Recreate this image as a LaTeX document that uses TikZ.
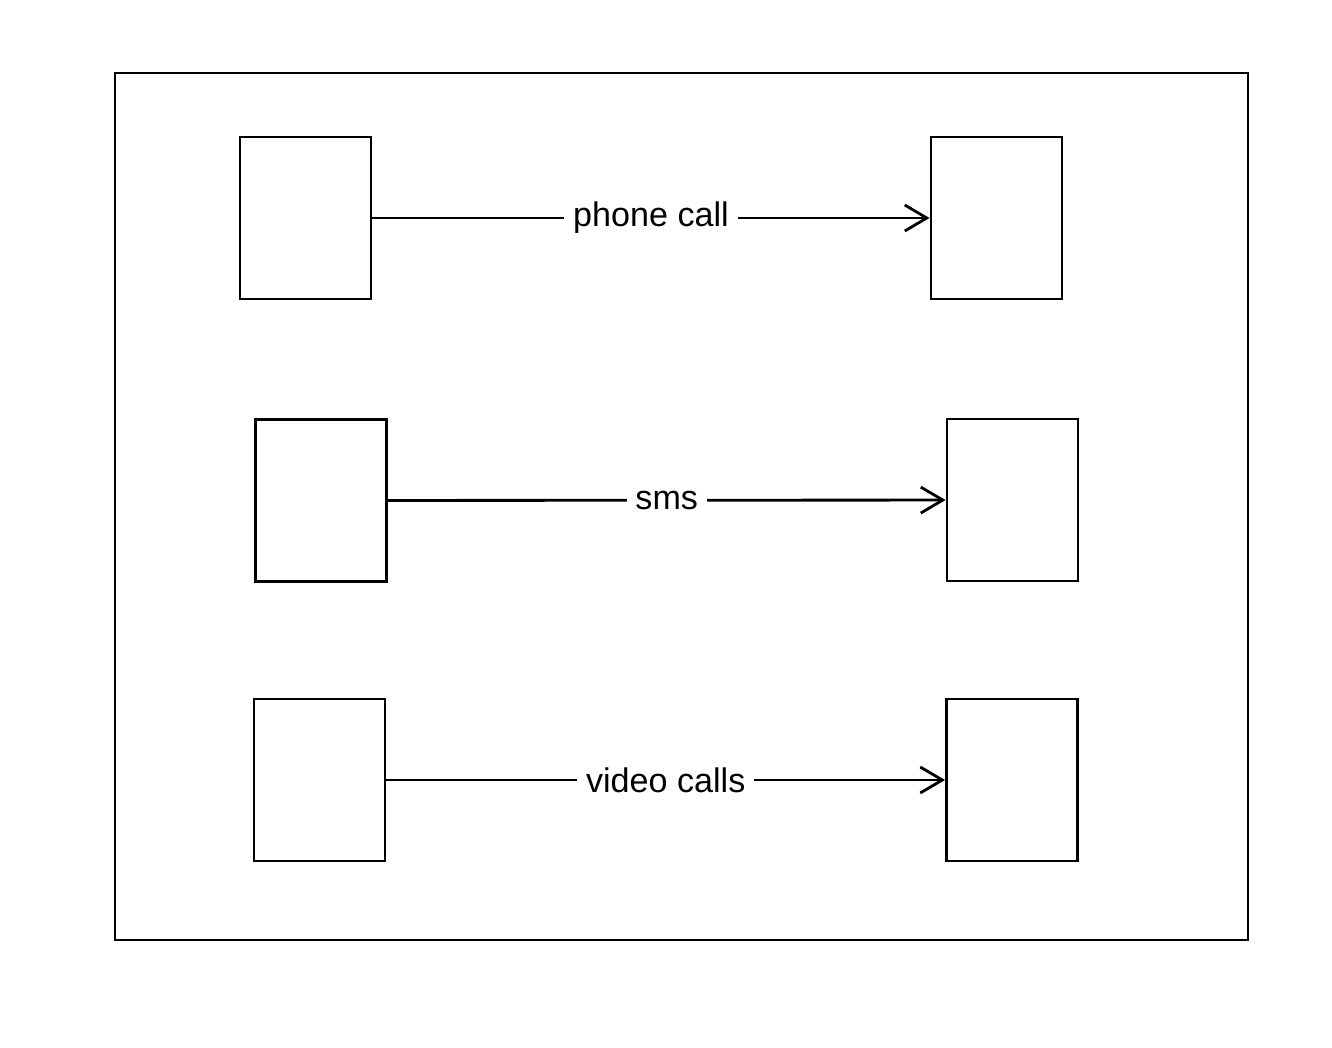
\documentclass[tikz,border=0pt]{standalone}
\usepackage{fontspec}
\setmainfont{Liberation Sans}
\usetikzlibrary{arrows.meta}

\begin{document}
\begin{tikzpicture}[x=0.01cm,y=-0.01cm,line width=0.8pt,
  box/.style={draw,minimum width=1.31cm,minimum height=1.62cm,inner sep=0pt},
  lbl/.style={fill=white,inner xsep=2.5pt,inner ysep=1pt,font=\fontsize{9.7}{12}\selectfont},
  link/.style={-{Straight Barb[length=0.22cm,width=0.26cm,line width=0.8pt]}}]
\path[use as bounding box] (0,0) rectangle (1332,1048);
\draw (115,73) rectangle (1248,940);
% senders and receivers
\node[box] (callfrom) at (305.5,218) {};
\node[box] (callto) at (996.5,218) {};
\node[box] (smsfrom) at (321,500.5) {};
\node[box] (smsto) at (1012.5,500) {};
\node[box] (videofrom) at (319.5,780) {};
\node[box] (videoto) at (1012,780) {};
% channels
\draw[link] (callfrom) -- node[lbl] {phone call} (callto);
\draw[link] (smsfrom) -- node[lbl] {sms} (smsto);
\draw[link] (videofrom) -- node[lbl] {video calls} (videoto);
\end{tikzpicture}
\end{document}
